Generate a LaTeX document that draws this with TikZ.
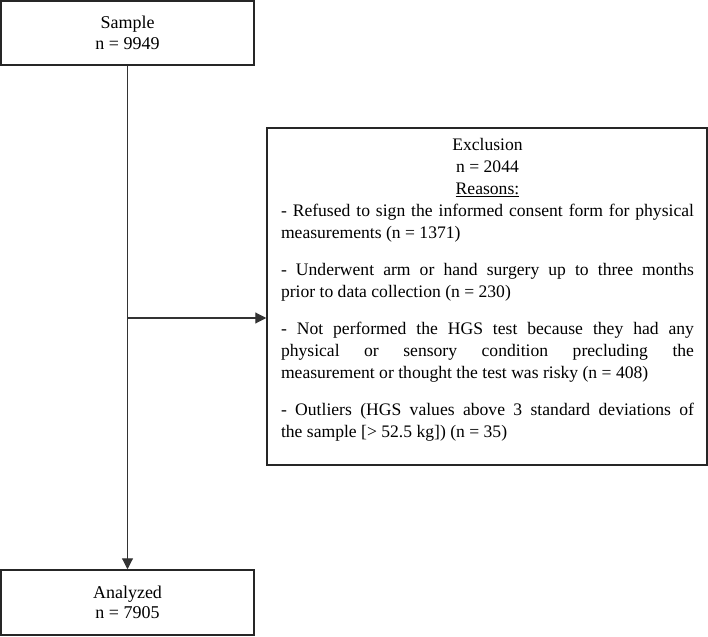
\documentclass[tikz,border=0pt]{standalone}
\usepackage{fontspec}
\setmainfont{Liberation Serif}
\usetikzlibrary{arrows.meta}
\begin{document}
\begin{tikzpicture}[x=1pt,y=-1pt,
  box/.style={draw=black!85, line width=1.5pt, inner sep=0pt, align=center,
    font=\fontsize{18}{20.5}\selectfont},
  conn/.style={draw=black!80, line width=1.1pt, -{Triangle[length=11pt,width=11pt]}}]
\useasboundingbox (0,0) rectangle (708,636);
\node[box, minimum width=253pt, minimum height=64pt] (sample) at (127.5,33) {Sample\\n = 9949};
\node[box, minimum width=253pt, minimum height=65pt] (analyzed) at (127.5,602.5) {Analyzed\\n = 7905};
\node[box, minimum width=440pt, minimum height=337pt] (excl) at (487,296.5) {};
\node[anchor=north, text width=413pt, align=justify, inner sep=0pt, font=\fontsize{17.6}{22}\selectfont] (excltext) at (487.5,138) {%
  \parindent=0pt
  {\centering Exclusion\\ n = 2044\\ \underline{Reasons:}\par}
  - Refused to sign the informed consent form for physical\linebreak measurements (n = 1371)\par\vspace{15pt}
  - Underwent arm or hand surgery up to three months\linebreak prior to data collection (n = 230)\par\vspace{15pt}
  - Not performed the HGS test because they had any\linebreak physical or sensory condition precluding the\linebreak measurement or thought the test was risky (n = 408)\par\vspace{15pt}
  - Outliers (HGS values above 3 standard deviations of\linebreak the sample [> 52.5 kg]) (n = 35)\par};
\coordinate (br) at (sample.south |- 0,318);
\draw[conn] (sample.south) -- (analyzed.north);
\draw[conn] (br) -- (br -| excl.west);
\end{tikzpicture}
\end{document}
